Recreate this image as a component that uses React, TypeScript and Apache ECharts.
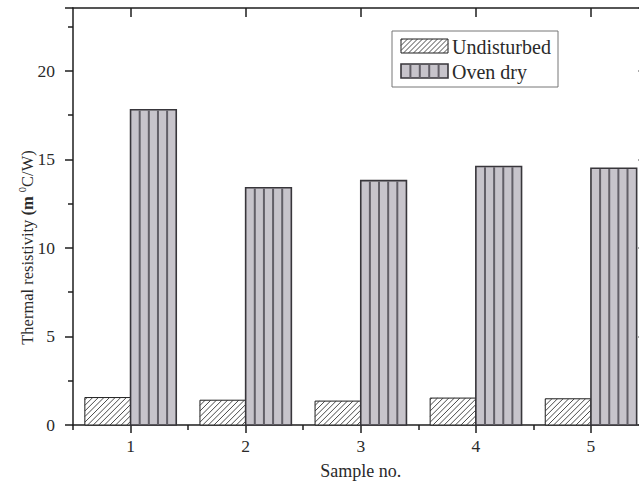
import React, { useEffect, useRef } from "react";
import * as echarts from "echarts";

// Sample numbers on the category axis
const samples = ["1", "2", "3", "4", "5"];
// Thermal resistivity (m °C/W) per sample
const undisturbed = [1.55, 1.4, 1.35, 1.52, 1.48];
const ovenDry = [17.8, 13.4, 13.8, 14.6, 14.5];
const seriesNames = ["Undisturbed", "Oven dry"];
// Value axis range
const yMin = 0;
const yMax = 23.55;
const yInterval = 5;

const FONT = "'Liberation Serif', 'Times New Roman', serif";
const INK = "#1e1e1e";
const TEXT = "#2a2a2a";
const OVEN_FILL = "#c7c4cb";
const OVEN_STRIPE = "#625f67";
const OVEN_EDGE = "#38363b";
const HATCH = "#333";

type El = any;

// White box with "/" hatching (lines x + y = c), clipped to the rectangle
function hatchedBox(x0: number, y0: number, x1: number, y1: number, step: number): El[] {
  const els: El[] = [
    {
      type: "rect",
      shape: { x: x0, y: y0, width: x1 - x0, height: y1 - y0 },
      style: { fill: "#fff", stroke: INK, lineWidth: 1 },
    },
  ];
  const anchor = x0 + y1 + step / 2;
  const kMin = Math.ceil((x0 + y0 - anchor) / step);
  const kMax = Math.floor((x1 + y1 - anchor) / step);
  for (let k = kMin; k <= kMax; k++) {
    const c = anchor + k * step;
    const xa = Math.max(x0, c - y1);
    const xb = Math.min(x1, c - y0);
    if (xb - xa < 0.5) continue;
    els.push({
      type: "line",
      shape: { x1: xa, y1: c - xa, x2: xb, y2: c - xb },
      style: { stroke: HATCH, lineWidth: 0.9 },
    });
  }
  return els;
}

// Grey box split into five columns by dark vertical stripes
function stripedBox(x0: number, y0: number, x1: number, y1: number): El[] {
  const w = x1 - x0;
  const els: El[] = [
    {
      type: "rect",
      shape: { x: x0, y: y0, width: w, height: y1 - y0 },
      style: { fill: OVEN_FILL, stroke: OVEN_EDGE, lineWidth: 1.6 },
    },
  ];
  for (let k = 1; k < 5; k++) {
    const x = x0 + (w * k) / 5;
    els.push({
      type: "line",
      shape: { x1: x, y1: y0 + 0.8, x2: x, y2: y1 },
      style: { stroke: OVEN_STRIPE, lineWidth: 2 },
    });
  }
  return els;
}

function barRenderer(side: 0 | 1) {
  return (params: any, api: any) => {
    const idx = api.value(0);
    const v = api.value(1);
    const base = api.coord([idx, 0]);
    const top = api.coord([idx, v]);
    const band = api.size([1, 0])[0];
    const w = band * 0.397;
    const x0 = side === 0 ? base[0] - w : base[0];
    const children =
      side === 0 ? hatchedBox(x0, top[1], x0 + w, base[1], 5.6) : stripedBox(x0, top[1], x0 + w, base[1]);
    return { type: "group", children };
  };
}

const tickLine = { color: INK, width: 1.5 };

export default function App() {
  const ref = useRef<HTMLDivElement>(null);

  useEffect(() => {
    if (!ref.current) return;
    const chart = echarts.init(ref.current, null, { renderer: "svg" });

    const legendX = 401;
    const legendIconW = 47;
    const legendIconH = 14;

    chart.setOption({
      animation: false,
      backgroundColor: "#fff",
      grid: {
        left: 73,
        top: 8,
        width: 575.5,
        bottom: 68,
        containLabel: false,
        outerBoundsMode: "none",
      },
      xAxis: [
        {
          type: "category",
          data: samples,
          position: "bottom",
          boundaryGap: true,
          axisLine: { show: true, lineStyle: tickLine },
          axisTick: { show: true, alignWithLabel: true, length: 8, lineStyle: tickLine },
          axisLabel: { fontFamily: FONT, fontSize: 17.5, color: TEXT, margin: 12 },
          splitLine: { show: false },
          name: "Sample no.",
          nameLocation: "middle",
          nameGap: 37,
          nameMoveOverlap: false,
          nameTextStyle: { fontFamily: FONT, fontSize: 18, color: TEXT },
        },
        {
          type: "category",
          data: samples,
          position: "bottom",
          offset: 0,
          boundaryGap: true,
          axisLine: { show: false },
          axisTick: { show: true, length: 5, lineStyle: tickLine },
          axisLabel: { show: false },
          splitLine: { show: false },
        },
        {
          type: "category",
          data: samples,
          position: "top",
          boundaryGap: true,
          axisLine: { show: true, lineStyle: tickLine },
          axisTick: { show: true, inside: true, alignWithLabel: true, length: 9, lineStyle: tickLine },
          axisLabel: { show: false },
          splitLine: { show: false },
        },
      ],
      yAxis: [
        {
          type: "value",
          position: "left",
          min: yMin,
          max: yMax,
          interval: yInterval,
          axisLine: { show: true, lineStyle: tickLine },
          axisTick: { show: true, length: 8, lineStyle: tickLine },
          minorTick: { show: true, splitNumber: 2, length: 5, lineStyle: tickLine },
          splitLine: { show: false },
          minorSplitLine: { show: false },
          axisLabel: {
            fontFamily: FONT,
            fontSize: 17.5,
            color: TEXT,
            margin: 18,
            showMaxLabel: false,
          },
          name: "{n|Thermal resistivity }{b|(m }{s|0}{n|C/W)}",
          nameLocation: "middle",
          nameRotate: 90,
          nameGap: 36,
          nameMoveOverlap: false,
          nameTextStyle: {
            fontFamily: FONT,
            fontSize: 16.5,
            color: TEXT,
            padding: [0, 62, 0, 0],
            rich: {
              n: { fontFamily: FONT, fontSize: 16.5, color: TEXT, lineHeight: 20 },
              b: { fontFamily: FONT, fontSize: 16.5, color: TEXT, fontWeight: "bold", lineHeight: 20 },
              s: { fontFamily: FONT, fontSize: 10.5, color: TEXT, verticalAlign: "top", lineHeight: 20 },
            },
          },
        },
        {
          type: "value",
          position: "right",
          min: yMin,
          max: yMax,
          interval: yInterval,
          axisLine: { show: true, lineStyle: tickLine },
          axisTick: { show: true, inside: true, length: 10, lineStyle: tickLine },
          minorTick: { show: true, splitNumber: 2, length: 5, lineStyle: tickLine },
          splitLine: { show: false },
          axisLabel: { show: false },
        },
      ],
      series: [
        {
          name: seriesNames[0],
          type: "custom",
          xAxisIndex: 0,
          yAxisIndex: 0,
          encode: { x: 0, y: 1 },
          data: undisturbed.map((v, i) => [i, v]),
          renderItem: barRenderer(0),
        },
        {
          name: seriesNames[1],
          type: "custom",
          xAxisIndex: 0,
          yAxisIndex: 0,
          encode: { x: 0, y: 1 },
          data: ovenDry.map((v, i) => [i, v]),
          renderItem: barRenderer(1),
        },
      ],
      graphic: [
        {
          type: "group",
          z: 100,
          children: [
            {
              type: "rect",
              shape: { x: 392, y: 31, width: 166, height: 56 },
              style: { fill: "#fff", stroke: "#777", lineWidth: 1 },
            },
            ...hatchedBox(legendX, 39, legendX + legendIconW, 39 + legendIconH, 5),
            ...stripedBox(legendX, 64, legendX + legendIconW, 64 + legendIconH),
            {
              type: "text",
              x: 452,
              y: 47,
              style: {
                text: seriesNames[0],
                fontFamily: FONT,
                fontSize: 20,
                fill: TEXT,
                align: "left",
                verticalAlign: "middle",
              },
            },
            {
              type: "text",
              x: 452,
              y: 72,
              style: {
                text: seriesNames[1],
                fontFamily: FONT,
                fontSize: 20,
                fill: TEXT,
                align: "left",
                verticalAlign: "middle",
              },
            },
          ],
        },
      ],
    });

    return () => chart.dispose();
  }, []);

  return (
    <div
      ref={ref}
      style={{ position: "absolute", left: 0, top: 0, width: 639, height: 493, background: "#fff" }}
    />
  );
}
